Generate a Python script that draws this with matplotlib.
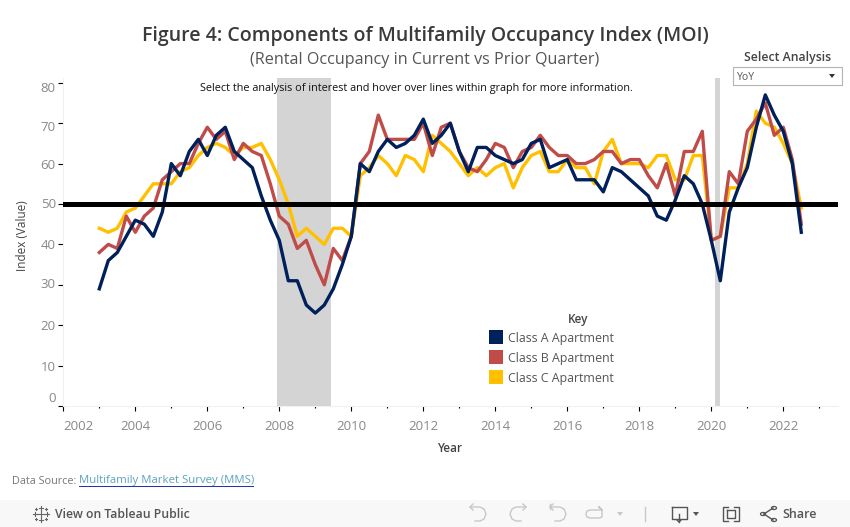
import matplotlib
matplotlib.use('Agg')
import matplotlib.pyplot as plt
from matplotlib.patches import Rectangle, Polygon, Circle
from matplotlib.lines import Line2D

plt.rcParams['font.family'] = ['Open Sans', 'DejaVu Sans']

W, H = 850, 527

# quarterly values, 2003 Q1 to 2022 Q3
years = [2003 + i * 0.25 for i in range(79)]
class_a = [29, 36, 38, 42, 46, 45, 42, 48, 60, 57, 63, 66, 62, 67, 69, 63, 61, 59, 52, 46,
           41, 31, 31, 25, 23, 25, 29, 35, 42, 60, 58, 63, 66, 64, 65, 67, 71, 65, 67, 70,
           63, 58, 64, 64, 62, 61, 60, 61, 65, 66, 59, 60, 61, 56, 56, 56, 53, 59, 58, 56,
           54, 52, 47, 46, 51, 57, 55, 50, 41, 31, 48, 54, 59, 69, 77, 72, 68, 60, 43]
class_b = [38, 40, 39, 47, 43, 47, 49, 56, 58, 60, 60, 65, 69, 66, 68, 61, 65, 63, 62, 55,
           47, 45, 39, 41, 35, 30, 39, 36, 42, 60, 63, 72, 66, 66, 66, 66, 70, 62, 69, 70,
           63, 59, 58, 61, 65, 64, 59, 63, 64, 67, 64, 62, 62, 60, 60, 61, 63, 63, 60, 61,
           61, 57, 54, 60, 52, 63, 63, 68, 41, 42, 58, 55, 68, 71, 75, 67, 69, 61, 45]
class_c = [44, 43, 44, 48, 49, 52, 55, 55, 55, 58, 59, 62, 64, 65, 64, 62, 64, 64, 65, 61,
           56, 50, 42, 44, 42, 40, 44, 44, 42, 57, 59, 62, 60, 57, 62, 61, 58, 67, 65, 63,
           60, 57, 59, 57, 59, 60, 54, 59, 62, 63, 58, 58, 61, 59, 59, 55, 63, 66, 60, 60,
           60, 59, 62, 62, 56, 56, 62, 62, 41, 42, 54, 54, 60, 73, 70, 69, 65, 60, 49]

recessions = [(2007.94, 2009.44), (2020.1, 2020.24)]
y_ticks = [0, 10, 20, 30, 40, 50, 60, 70, 80]
y_label_shift = [8, -2, -1, 0, -1, -1, -2, -4, -5.5]  # px, tableau nudges these labels
x_ticks = list(range(2002, 2024, 2))
key_names = ['Class A Apartment', 'Class B Apartment', 'Class C Apartment']
key_colors = ['#00205b', '#c04c4a', '#ffc000']


def fx(px):
    return px / W


def fy(py):
    return 1 - py / H


fig = plt.figure(figsize=(W / 100, H / 100), dpi=100, facecolor='white')
ax = fig.add_axes([fx(63.3), fy(406), (838 - 63.3) / W, (406 - 78) / H])
ax.set_xlim(2002, 2002 + (838 - 63.3) / 36)
ax.set_ylim(0, 328 / 4.04)

for start, end in recessions:
    ax.axvspan(start, end, color='#d4d4d4', lw=0, zorder=1)

ax.plot(years, class_c, color=key_colors[2], lw=2.4, zorder=2)
ax.plot(years, class_b, color=key_colors[1], lw=2.4, zorder=3)
ax.plot(years, class_a, color=key_colors[0], lw=2.4, zorder=4)
ax.axhline(50, color='black', lw=3.6, zorder=5)

for side in ['top', 'right']:
    ax.spines[side].set_visible(False)
for side in ['left', 'bottom']:
    ax.spines[side].set_color('#f0f0f0')

ax.set_xticks(x_ticks)
ax.set_xticks(range(2003, 2024, 2), minor=True)
ax.tick_params(axis='x', which='major', length=3.5, width=0.8, color='black',
               labelsize=9.5, labelcolor='#888888', pad=6.5)
ax.tick_params(axis='x', which='minor', length=1.5, width=0.8, color='black')
ax.get_xticklabels()[0].set_ha('left')

ax.set_yticks(y_ticks)
ax.set_yticklabels([])
ax.tick_params(axis='y', length=3.5, width=0.8, color='black')
for val, shift in zip(y_ticks, y_label_shift):
    ax.annotate(str(val), xy=(0, val), xycoords=('axes fraction', 'data'),
                xytext=(-7.5 / 1.389, shift / 1.389), textcoords='offset points',
                ha='right', va='center', fontsize=9.5, color='#888888')

# titles and notes
fig.text(fx(425), fy(35.5), 'Figure 4: Components of Multifamily Occupancy Index (MOI)',
         ha='center', va='center', fontsize=14, fontweight='semibold', color='#3a3a3a')
fig.text(fx(425), fy(60.5), '(Rental Occupancy in Current vs Prior Quarter)',
         ha='center', va='center', fontsize=11.6, color='#555555')
fig.text(fx(416.5), fy(88), 'Select the analysis of interest and hover over lines within graph for more information.',
         ha='center', va='center', fontsize=7.85, color='#111111', zorder=10)
fig.text(fx(23), fy(236), 'Index (Value)', rotation=90, ha='center', va='center',
         fontsize=8.5, color='#444444')
fig.text(fx(450), fy(449), 'Year', ha='center', va='center', fontsize=8.5,
         fontweight='semibold', color='#444444')

# key
fig.text(fx(578), fy(319), 'Key', ha='center', va='center', fontsize=8.5,
         fontweight='semibold', color='#444444')
for i, (name, col) in enumerate(zip(key_names, key_colors)):
    top = 330 + i * 20
    fig.add_artist(Rectangle((fx(489), fy(top + 14)), 14 / W, 14 / H, color=col, lw=0))
    fig.text(fx(508), fy(top + 8.5), name, ha='left', va='center', fontsize=8.9, color='#555555')

# dropdown
fig.text(fx(788), fy(58), 'Select Analysis', ha='center', va='center', fontsize=8.8,
         fontweight='semibold', color='#444444')
fig.add_artist(Rectangle((fx(732.5), fy(85)), 109 / W, 18 / H, fc='white', ec='#b4b4b4', lw=0.8))
fig.text(fx(737), fy(77), 'YoY', ha='left', va='center', fontsize=7.5, color='#555555')
fig.add_artist(Polygon([(fx(829), fy(74)), (fx(835), fy(74)), (fx(832), fy(78))], color='#333333', lw=0))

# source line
fig.text(fx(12), fy(481), 'Data Source:', ha='left', va='center', fontsize=7.8, color='#777777')
fig.text(fx(79), fy(481), 'Multifamily Market Survey (MMS)', ha='left', va='center',
         fontsize=8.2, color='#5ba3c0')
fig.add_artist(Line2D([fx(79), fx(253)], [fy(486), fy(486)], color='#1a2fb0', lw=0.7))

# tableau toolbar
fig.add_artist(Rectangle((0, 0), 1, 27 / H, color='#f8f8f8', lw=0, zorder=-1))
fig.text(fx(55), fy(515), 'View on Tableau Public', ha='left', va='center', fontsize=8.8,
         fontweight='semibold', color='#555555')
fig.text(fx(782), fy(515), 'Share', ha='left', va='center', fontsize=9,
         fontweight='semibold', color='#555555')


def stroke(xs, ys, col='#c8c8c8', lw=1.0):
    fig.add_artist(Line2D([fx(v) for v in xs], [fy(v) for v in ys], color=col, lw=lw))


# tableau logo
for dx, dy, r in [(0, 0, 4), (-6, 0, 2), (6, 0, 2), (0, -6, 2), (0, 6, 2),
                  (-5, -5, 1), (5, -5, 1), (-5, 5, 1), (5, 5, 1)]:
    stroke([41 + dx - r, 41 + dx + r], [514 + dy, 514 + dy], '#666666', 0.8)
    stroke([41 + dx, 41 + dx], [514 + dy - r, 514 + dy + r], '#666666', 0.8)

# undo, redo, revert, refresh
for off in [0, 80]:
    stroke([470 + off, 480 + off, 484 + off, 486 + off, 484 + off, 480 + off, 475 + off],
           [507, 507, 509, 514, 519, 521, 521])
    stroke([473 + off, 470 + off, 473 + off], [504, 507, 510])
stroke([526, 516, 512, 510, 512, 516, 521], [507, 507, 509, 514, 519, 521, 521])
stroke([523, 526, 523], [504, 507, 510])
stroke([550, 550], [504, 509])
stroke([602, 590, 587, 586, 587, 590, 599, 602, 602], [510, 510, 511, 514, 517, 518, 518, 517, 510])
stroke([599, 602, 599], [507, 510, 507])
fig.add_artist(Polygon([(fx(617), fy(512)), (fx(623), fy(512)), (fx(620), fy(516))], color='#c8c8c8', lw=0))
stroke([645, 645], [507, 521])

# download
stroke([672, 687, 687, 672, 672], [507, 507, 519, 519, 507], '#555555')
stroke([679, 679], [514, 522], '#555555')
stroke([677, 679, 681], [520, 522, 520], '#555555')
fig.add_artist(Polygon([(fx(693), fy(512)), (fx(699), fy(512)), (fx(696), fy(516))], color='#555555', lw=0))

# fullscreen
stroke([728, 723, 723, 728], [507, 507, 521, 521], '#555555')
stroke([734, 739, 739, 734], [507, 507, 521, 521], '#555555')
stroke([727, 735, 735, 727, 727], [510, 510, 518, 518, 510], '#555555')

# share
stroke([764, 773], [514, 508], '#555555')
stroke([764, 773], [514, 520], '#555555')
for cx, cy in [(763, 514), (774, 508), (774, 520)]:
    fig.add_artist(Circle((fx(cx), fy(cy)), 2.5 / W, fc='#f8f8f8', ec='#555555', lw=0.9,
                          transform=fig.transFigure))

fig.savefig('out.png', dpi=100)
